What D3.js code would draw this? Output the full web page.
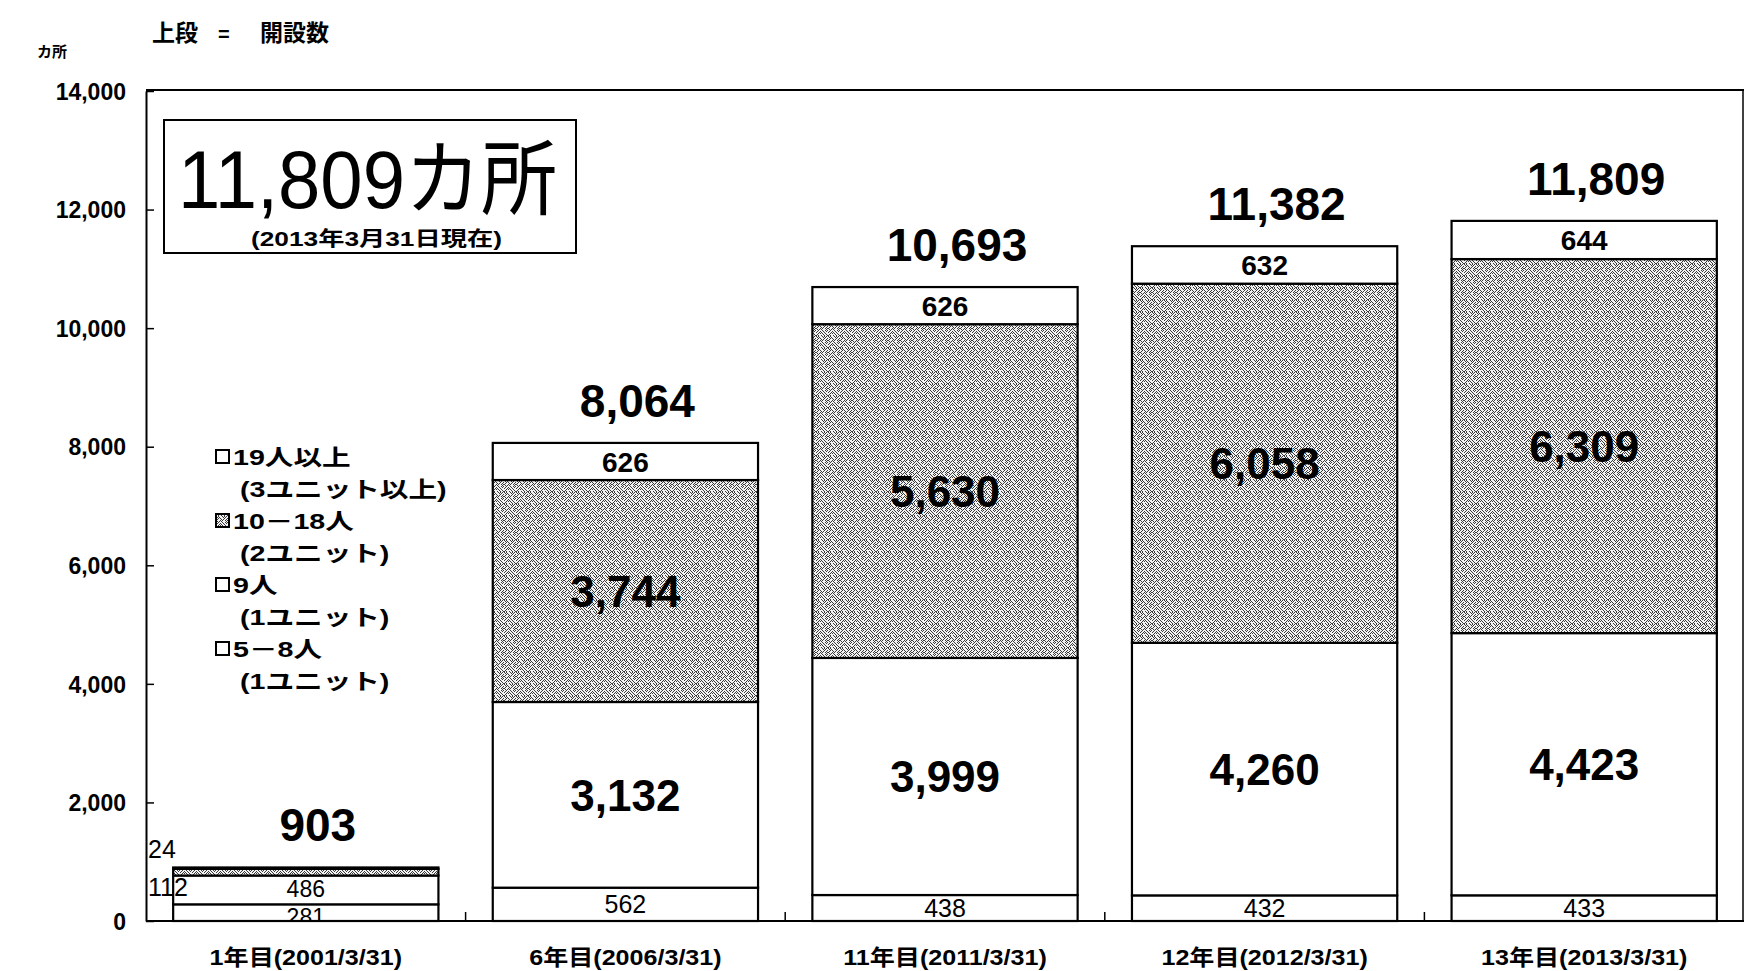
<!DOCTYPE html>
<html>
<head>
<meta charset="utf-8">
<script src="https://cdn.jsdelivr.net/npm/d3@7"></script>
<style>
  html, body { margin: 0; padding: 0; background: #fff; }
  svg { display: block; }
  text { font-family: "Liberation Sans", "Noto Sans CJK JP", sans-serif; fill: #000; }
  .jp { font-family: "Noto Sans CJK JP", "Liberation Sans", sans-serif; }
</style>
</head>
<body>
<svg id="chart" width="1748" height="971"></svg>
<script>
// グループホーム開設数の推移（ユニット規模別）
const categories = ["1年目(2001/3/31)", "6年目(2006/3/31)", "11年目(2011/3/31)", "12年目(2012/3/31)", "13年目(2013/3/31)"];
const seriesKeys = ["u5to8", "u9", "u10to18", "u19plus"];
const units5to8   = [281, 562, 438, 432, 433];
const units9      = [486, 3132, 3999, 4260, 4423];
const units10to18 = [112, 3744, 5630, 6058, 6309];
const units19plus = [24, 626, 626, 632, 644];
const totals      = [903, 8064, 10693, 11382, 11809];
const yTicks      = [0, 2000, 4000, 6000, 8000, 10000, 12000, 14000];
const legendLabels    = ["19人以上", "10－18人", "9人", "5－8人"];
const legendSubLabels = ["(3ユニット以上)", "(2ユニット)", "(1ユニット)", "(1ユニット)"];
const legendKeys      = ["u19plus", "u10to18", "u9", "u5to8"];
const headlineDate = "(2013年3月31日現在)";

const svg = d3.select("#chart");
const plot = { left: 146, right: 1744, top: 90, bottom: 921 };

// widen a text horizontally by factor k (keeps its anchor)
function stretch(sel, k) {
  sel.each(function () {
    const len = this.getComputedTextLength();
    d3.select(this).attr("textLength", len * k).attr("lengthAdjust", "spacingAndGlyphs");
  });
  return sel;
}

const rows = categories.map((c, i) => ({
  cat: c,
  u5to8: units5to8[i], u9: units9[i], u10to18: units10to18[i], u19plus: units19plus[i],
  total: totals[i]
}));

const x = d3.scaleBand().domain(categories).range([plot.left, plot.right])
  .paddingInner(0.17).paddingOuter(0.085);
const y = d3.scaleLinear().domain([0, 14000]).range([plot.bottom, 91]);
const fmt = d3.format(",");

// stipple pattern for the 2-unit segment
const defs = svg.append("defs");
const tile = [
  "101000101010",
  "010100010100",
  "001010001001",
  "010001010010",
  "100010100101",
  "010101000010",
  "001000100101",
  "010010010010",
  "100101001000",
  "001010100100",
  "010000010010",
  "101001001001"
];
const pat = defs.append("pattern").attr("id", "stipple")
  .attr("patternUnits", "userSpaceOnUse").attr("width", tile[0].length).attr("height", tile.length);
pat.append("rect").attr("width", tile[0].length).attr("height", tile.length).attr("fill", "#f2f2f2");
tile.forEach((row, r) => row.split("").forEach((b, c) => {
  if (b === "1") pat.append("rect").attr("x", c).attr("y", r).attr("width", 1).attr("height", 1)
    .attr("fill", "#3a3a3a").attr("shape-rendering", "crispEdges");
}));
const fillFor = k => k === "u10to18" ? "url(#stipple)" : "#fff";

// plot frame
svg.append("line").attr("x1", plot.left).attr("x2", plot.right).attr("y1", plot.top).attr("y2", plot.top)
  .attr("stroke", "#000").attr("stroke-width", 2);
svg.append("line").attr("x1", plot.right - 1).attr("x2", plot.right - 1).attr("y1", plot.top).attr("y2", plot.bottom)
  .attr("stroke", "#000").attr("stroke-width", 1.5);

// y axis, ticks pointing inwards
const yAxis = svg.append("g").attr("transform", `translate(${plot.left},0)`)
  .call(d3.axisLeft(y).tickValues(yTicks).tickSize(-8).tickSizeOuter(0).tickPadding(20).tickFormat(fmt));
yAxis.select(".domain").attr("stroke-width", 2);
yAxis.selectAll(".tick line").attr("stroke-width", 1.5);
yAxis.selectAll(".tick text").attr("font-size", 23).attr("font-family", "Liberation Sans")
  .attr("fill", "#000").attr("font-weight", "bold").attr("dy", "0.36em");

// stacked bars
const stacked = d3.stack().keys(seriesKeys)(rows);
const segGroup = svg.append("g");
stacked.forEach(layer => {
  segGroup.selectAll(null).data(layer).enter().append("rect")
    .attr("x", d => x(d.data.cat))
    .attr("width", x.bandwidth())
    .attr("y", d => y(d[1]))
    .attr("height", d => y(d[0]) - y(d[1]))
    .attr("fill", fillFor(layer.key))
    .attr("stroke", "#000").attr("stroke-width", 2.2);
});

// x axis baseline and category separators
svg.append("line").attr("x1", plot.left).attr("x2", plot.right).attr("y1", plot.bottom).attr("y2", plot.bottom)
  .attr("stroke", "#000").attr("stroke-width", 2);
const step = x.step();
categories.slice(0, -1).forEach(c => {
  const bx = x(c) + x.bandwidth() + (step - x.bandwidth()) / 2;
  svg.append("line").attr("x1", bx).attr("x2", bx).attr("y1", plot.bottom).attr("y2", plot.bottom - 9)
    .attr("stroke", "#000").attr("stroke-width", 1.5);
});
const xAxis = svg.append("g").attr("transform", `translate(0,${plot.bottom})`)
  .call(d3.axisBottom(x).tickSize(0).tickPadding(0));
xAxis.select(".domain").remove();
const catText = xAxis.selectAll(".tick text").attr("y", 44).attr("dy", 0)
  .attr("font-size", 22).attr("font-weight", "bold").attr("fill", "#000")
  .attr("font-family", "\"Liberation Sans\", \"Noto Sans CJK JP\"");
stretch(catText, 1.14);

// segment value labels
const labelG = svg.append("g");
rows.forEach((r, i) => {
  const cx = x(r.cat) + x.bandwidth() / 2;
  let outside = 0;
  let firstOutsideY = null;
  stacked.forEach((layer, li) => {
    const d = layer[i];
    const v = d[1] - d[0];
    const h = y(d[0]) - y(d[1]);
    const mid = (y(d[0]) + y(d[1])) / 2;
    if (h < 14) {
      if (firstOutsideY === null) firstOutsideY = mid + 24;
      labelG.append("text").attr("x", plot.left + 2).attr("y", firstOutsideY - 38 * outside)
        .attr("font-size", 25).text(fmt(v));
      outside++;
      return;
    }
    let size = 25, weight = "normal", shift = 0.36, clip = false;
    if (h >= 60) { size = 44; weight = "bold"; }
    else if (layer.key === "u19plus") { size = 28; weight = "bold"; }
    else if (li === 0) { if (h < 20) { size = 23; shift = 0.52; clip = true; } }
    else if (h < 30) { size = 23; shift = 0.3; }
    const t = labelG.append("text").attr("x", cx).attr("y", mid + size * shift)
      .attr("text-anchor", "middle").attr("font-size", size).attr("font-weight", weight)
      .text(fmt(v));
    if (clip) {
      // the thinnest segment keeps its label inside its own box
      const id = `seg-clip-${i}-${li}`;
      defs.append("clipPath").attr("id", id).append("rect")
        .attr("x", x(r.cat)).attr("width", x.bandwidth())
        .attr("y", y(d[1]) + 1).attr("height", h - 1);
      t.attr("clip-path", `url(#${id})`);
    }
  });
  // total on top
  labelG.append("text").attr("x", cx + 12).attr("y", y(r.total) - 26)
    .attr("text-anchor", "middle").attr("font-size", 46).attr("font-weight", "bold")
    .text(fmt(r.total));
});

// headline box
const box = svg.append("g");
box.append("rect").attr("x", 164).attr("y", 120).attr("width", 412).attr("height", 133)
  .attr("fill", "#fff").attr("stroke", "#000").attr("stroke-width", 2);
box.append("text").attr("x", 178).attr("y", 208).attr("font-size", 82)
  .attr("textLength", 379).attr("lengthAdjust", "spacingAndGlyphs")
  .text(fmt(totals[totals.length - 1]) + "カ所");
box.append("text").attr("x", 251).attr("y", 246).attr("font-size", 20).attr("font-weight", "bold")
  .attr("textLength", 251).attr("lengthAdjust", "spacingAndGlyphs")
  .text(headlineDate);

// unit & header text
svg.append("text").attr("class", "jp").attr("x", 37).attr("y", 57).attr("font-size", 15).attr("font-weight", "bold").text("カ所");
svg.append("text").attr("class", "jp").attr("x", 152).attr("y", 41).attr("font-size", 23).attr("font-weight", "bold").text("上段");
svg.append("text").attr("x", 218).attr("y", 41).attr("font-size", 20).attr("font-weight", "bold").text("=");
svg.append("text").attr("class", "jp").attr("x", 260).attr("y", 41).attr("font-size", 23).attr("font-weight", "bold").text("開設数");

// legend
const lg = svg.append("g");
legendLabels.forEach((lab, i) => {
  const cy = 457 + i * 64;
  lg.append("rect").attr("x", 216).attr("y", cy - 7).attr("width", 13).attr("height", 13)
    .attr("fill", fillFor(legendKeys[i])).attr("stroke", "#000").attr("stroke-width", 2);
  stretch(lg.append("text").attr("x", 233).attr("y", cy + 8).attr("font-size", 22).attr("font-weight", "bold").text(lab), 1.3);
  stretch(lg.append("text").attr("x", 240).attr("y", cy + 40).attr("font-size", 22).attr("font-weight", "bold").text(legendSubLabels[i]), 1.3);
});
</script>
</body>
</html>
